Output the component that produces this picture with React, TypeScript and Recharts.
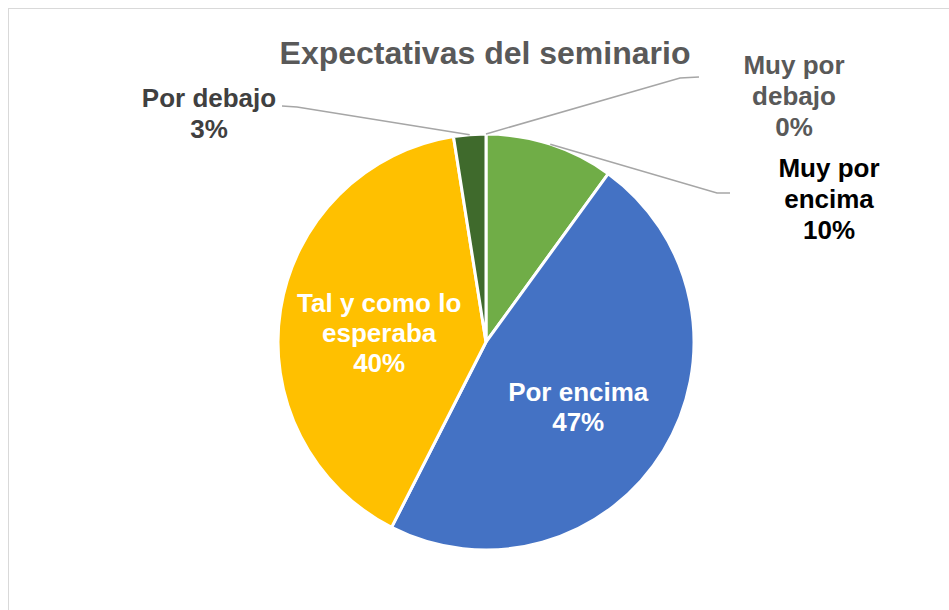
import { PieChart, Pie, Cell } from "recharts";

const title = "Expectativas del seminario";
const categories = ["Muy por encima", "Por encima", "Tal y como lo esperaba", "Por debajo", "Muy por debajo"];
const shares = [10, 47.5, 40, 2.5, 0];
const percentLabels = ["10%", "47%", "40%", "3%", "0%"];
// category names split the way the labels wrap
const labelLines = [["Muy por", "encima"], ["Por encima"], ["Tal y como lo", "esperaba"], ["Por debajo"], ["Muy por", "debajo"]];

const colors = ["#70AD47", "#4472C4", "#FFC000", "#3F6A2C", "#A5A5A5"];
const labelColors = ["#000000", "#FFFFFF", "#FFFFFF", "#404040", "#595959"];

const data = categories.map((name, i) => ({ name, value: shares[i] }));

// manual label placement (as in the original), keyed by slice index
const outside: Record<number, { elbow: [number, number]; end: [number, number]; x: number; y: number }> = {
  0: { elbow: [717, 193], end: [730, 193], x: 829, y: 177 },
  3: { elbow: [297, 107], end: [282, 106], x: 209, y: 107 },
  4: { elbow: [680, 78], end: [699, 77], x: 794, y: 74 },
};

const FONT = "'Liberation Sans', Arial, sans-serif";
const RAD = Math.PI / 180;

function renderLabel(props: any) {
  const { cx, cy, midAngle, outerRadius, index } = props;
  const lines = [...labelLines[index], percentLabels[index]];
  const color = labelColors[index];
  const o = outside[index];
  if (o) {
    const sx = cx + outerRadius * Math.cos(-midAngle * RAD);
    const sy = cy + outerRadius * Math.sin(-midAngle * RAD);
    return (
      <g>
        <polyline
          points={`${sx},${sy} ${o.elbow[0]},${o.elbow[1]} ${o.end[0]},${o.end[1]}`}
          fill="none"
          stroke="#A6A6A6"
          strokeWidth={1.5}
        />
        {lines.map((t, i) => (
          <text key={i} x={o.x} y={o.y + i * 31} textAnchor="middle" fill={color}
            fontFamily={FONT} fontWeight="bold" fontSize={26}>
            {t}
          </text>
        ))}
      </g>
    );
  }
  const r = outerRadius * 0.52;
  const x = cx + r * Math.cos(-midAngle * RAD);
  const y = cy + r * Math.sin(-midAngle * RAD) + 8;
  return (
    <g>
      {lines.map((t, i) => (
        <text key={i} x={x} y={y + (i - (lines.length - 1) / 2) * 30 + 9} textAnchor="middle" fill={color}
          fontFamily={FONT} fontWeight="bold" fontSize={26}>
          {t}
        </text>
      ))}
    </g>
  );
}

export default function App() {
  return (
    <div style={{ position: "fixed", left: 0, top: 0, width: 949, height: 610, overflow: "hidden", background: "#fff" }}>
      <div style={{ position: "absolute", left: 8, top: 8, width: 980, height: 640, border: "1px solid #D9D9D9" }} />
      <div
        style={{
          position: "absolute", left: 0, top: 37, width: 970, textAlign: "center",
          fontFamily: FONT, fontWeight: "bold", fontSize: 32, lineHeight: "32px", color: "#595959",
        }}
      >
        {title}
      </div>
      <div style={{ position: "absolute", left: 0, top: 0 }}>
        <PieChart width={949} height={610} margin={{ top: 0, right: 0, bottom: 0, left: 0 }}>
          <Pie
            data={data}
            dataKey="value"
            nameKey="name"
            cx={486}
            cy={342}
            outerRadius={208}
            startAngle={90}
            endAngle={-270}
            stroke="#FFFFFF"
            strokeWidth={3}
            label={renderLabel}
            labelLine={false}
            isAnimationActive={false}
          >
            {data.map((d, i) => (
              <Cell key={d.name} fill={colors[i]} />
            ))}
          </Pie>
        </PieChart>
      </div>
    </div>
  );
}
